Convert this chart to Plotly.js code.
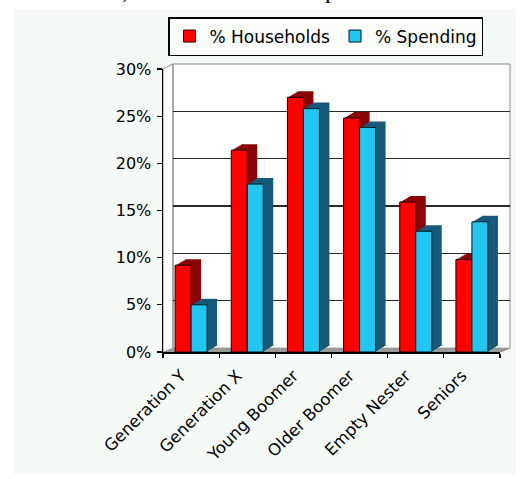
<!DOCTYPE html>
<html><head><meta charset="utf-8">
<script src="https://cdn.plot.ly/plotly-3.0.1.min.js"></script>
<style>html,body{margin:0;padding:0;background:#fff}</style>
</head><body><div id="chart" style="width:528px;height:479px"></div>
<script>
// ---- data ----
const categories = ['Generation Y', 'Generation X', 'Young Boomer', 'Older Boomer', 'Empty Nester', 'Seniors'];
const households = [9.2, 21.4, 27.0, 24.8, 15.9, 9.8];
const spending = [5.0, 17.8, 25.8, 23.8, 12.8, 13.8];
const yTickValues = [0, 5, 10, 15, 20, 25, 30];
const yTickLabels = ['0%', '5%', '10%', '15%', '20%', '25%', '30%'];
const gridValues = [5, 10, 15, 20, 25];
const seriesNames = ['% Households', '% Spending'];
const topText = 'd in the case, of two or more complement to sec';

// ---- geometry (pixels) ----
const W = 528, H = 479;
const L = 163, R = 510, T = 64, B = 352;
const PW = R - L, PH = B - T;
const frontRight = 500, frontTop = 69;
const wallDx = 10, wallDy = 4;
const barDx = 10, barDy = 6, barPx = 16;
const fx = px => (px - L) / PW;
const fy = py => (B - py) / PH;
const catPx = (frontRight - L) / categories.length;
const bw = barPx / catPx;
const dxData = barDx / catPx;
const dyData = barDy * 30 / (B - frontTop);

const font = 'DejaVu Sans, Verdana, sans-serif';
const colors = {
  red: '#ff0000', redDark: '#8a0606',
  cyan: '#22c6f0', cyanDark: '#17597a'
};

const traces = [];
// placeholder so the back-wall subplot (gridlines) is drawn
traces.push({type: 'scatter', x: [], y: [], xaxis: 'x', yaxis: 'y', showlegend: false, hoverinfo: 'skip'});
const nLayers = 6;
for (let k = nLayers; k >= 1; k--) {
  const f = k / nLayers;
  traces.push({
    type: 'bar', x: categories, y: households, base: f * dyData,
    offset: -bw + f * dxData, width: bw, xaxis: 'x2', yaxis: 'y2',
    marker: {color: colors.redDark, line: {width: 0}},
    showlegend: false, hoverinfo: 'skip'
  });
  traces.push({
    type: 'bar', x: categories, y: spending, base: f * dyData,
    offset: f * dxData, width: bw, xaxis: 'x2', yaxis: 'y2',
    marker: {color: colors.cyanDark, line: {width: 0}},
    showlegend: false, hoverinfo: 'skip'
  });
}
traces.push({
  type: 'bar', name: seriesNames[0], x: categories, y: households,
  offset: -bw, width: bw, xaxis: 'x2', yaxis: 'y2',
  marker: {color: colors.red, line: {color: '#1a0000', width: 1}}
});
traces.push({
  type: 'bar', name: seriesNames[1], x: categories, y: spending,
  offset: 0, width: bw, xaxis: 'x2', yaxis: 'y2',
  marker: {color: colors.cyan, line: {color: '#001a22', width: 1}}
});

const P = (pts) => 'M' + pts.map(p => fx(p[0]) + ',' + fy(p[1])).join('L') + 'Z';

const shapes = [
  // white page outside the chart picture
  {type: 'rect', xref: 'paper', yref: 'paper', x0: fx(0), x1: fx(W), y0: fy(0), y1: fy(9), fillcolor: '#ffffff', line: {width: 0}, layer: 'below'},
  {type: 'rect', xref: 'paper', yref: 'paper', x0: fx(0), x1: fx(13), y0: fy(0), y1: fy(H), fillcolor: '#ffffff', line: {width: 0}, layer: 'below'},
  {type: 'rect', xref: 'paper', yref: 'paper', x0: fx(516), x1: fx(W), y0: fy(0), y1: fy(H), fillcolor: '#ffffff', line: {width: 0}, layer: 'below'},
  {type: 'rect', xref: 'paper', yref: 'paper', x0: fx(0), x1: fx(W), y0: fy(474), y1: fy(H), fillcolor: '#ffffff', line: {width: 0}, layer: 'below'},
  // walls
  {type: 'path', xref: 'paper', yref: 'paper', layer: 'below',
   path: P([[L, B], [L, frontTop], [L + wallDx, T], [R, T], [R, B - wallDy], [frontRight, B]]),
   fillcolor: '#ffffff', line: {color: '#8a8a8a', width: 1}},
  {type: 'path', xref: 'paper', yref: 'paper', layer: 'below',
   path: P([[L + wallDx, B - wallDy], [L + wallDx, T]]),
   line: {color: '#8a8a8a', width: 1}},
  // floor
  {type: 'path', xref: 'paper', yref: 'paper', layer: 'below',
   path: P([[L, B], [frontRight, B], [R, B - wallDy], [L + wallDx, B - wallDy]]),
   fillcolor: '#9c9c9c', line: {color: '#7a7a7a', width: 0.5}}
];

const layout = {
  width: W, height: H,
  margin: {l: L, r: W - R, t: T, b: H - B, pad: 0},
  paper_bgcolor: '#f6faf6', plot_bgcolor: 'rgba(0,0,0,0)',
  barmode: 'overlay',
  font: {family: font, size: 16, color: '#000'},
  showlegend: true,
  legend: {
    orientation: 'h', x: fx(168), y: fy(17), xanchor: 'left', yanchor: 'top',
    bgcolor: '#fbfdfb', bordercolor: '#000', borderwidth: 1.5,
    font: {family: font, size: 17, color: '#000'}, itemwidth: 30,
    traceorder: 'normal'
  },
  // back wall (gridlines)
  xaxis: {domain: [fx(L + wallDx), 1], range: [-0.5, categories.length - 0.5], showgrid: false,
          zeroline: false, showticklabels: false, ticks: '', showline: false, fixedrange: true},
  yaxis: {domain: [fy(B - wallDy), 1], range: [0, 30], tickvals: gridValues, showgrid: true,
          gridcolor: '#2a2a2a', gridwidth: 1.2, zeroline: false, showticklabels: false,
          ticks: '', showline: false, fixedrange: true},
  // front axes with bars
  xaxis2: {domain: [0, fx(frontRight)], anchor: 'y2', type: 'category', categoryarray: categories,
           categoryorder: 'array', range: [-0.5, categories.length - 0.5],
           showgrid: false, zeroline: false, showline: true, linecolor: '#000', linewidth: 1.5,
           ticks: 'outside', tickson: 'boundaries', ticklen: 4, tickcolor: '#000', tickwidth: 1.2,
           tickangle: -45, tickfont: {family: font, size: 16.5, color: '#000'},
           ticklabelshift: -10, ticklabelstandoff: 6, automargin: false, fixedrange: true},
  yaxis2: {domain: [0, fy(frontTop)], anchor: 'x2', range: [0, 30], tickvals: yTickValues,
           ticktext: yTickLabels, showgrid: false, zeroline: false, showline: true, linecolor: '#000',
           linewidth: 1.5, ticks: 'outside', ticklen: 5, tickcolor: '#000', tickwidth: 1.2,
           tickfont: {family: font, size: 16, color: '#000'}, ticklabelstandoff: 2,
           automargin: false, fixedrange: true},
  shapes: shapes,
  annotations: [{
    text: topText, xref: 'paper', yref: 'paper', x: fx(2), y: fy(4),
    xanchor: 'left', yanchor: 'bottom', showarrow: false, borderpad: 0,
    font: {family: 'Liberation Serif, Times New Roman, serif', size: 24, color: '#000'}
  }]
};

Plotly.newPlot('chart', traces, layout, {displayModeBar: false, staticPlot: true});
</script>
</body></html>
